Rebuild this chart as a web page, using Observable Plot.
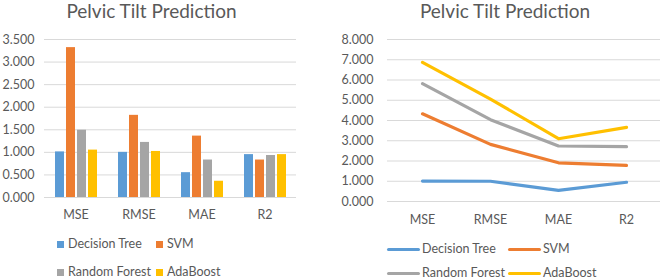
<!DOCTYPE html>
<html><head><meta charset="utf-8">
<script src="https://cdn.jsdelivr.net/npm/d3@7"></script>
<script src="https://cdn.jsdelivr.net/npm/@observablehq/plot@0.6"></script>
<style>
html,body{margin:0;padding:0;background:#fff;}
body{width:661px;height:279px;overflow:hidden;position:relative;font-family:Lato,sans-serif;color:#595959;}
.abs{position:absolute;}
.title{font-size:19px;white-space:nowrap;transform:translateX(-50%);line-height:1.15;}
.legend{display:grid;font-size:12.5px;line-height:1;}
.item{display:flex;align-items:center;white-space:nowrap;}
</style></head><body>
<script>
// ---- data ----
const metrics = ["MSE", "RMSE", "MAE", "R2"];
const series = ["Decision Tree", "SVM", "Random Forest", "AdaBoost"];
const colors = ["#5B9BD5", "#ED7D31", "#A5A5A5", "#FFC000"];
const decisionTree = [1.01, 1.00, 0.55, 0.95];
const svm = [3.32, 1.82, 1.36, 0.83];
const randomForest = [1.49, 1.22, 0.83, 0.93];
const adaBoost = [1.05, 1.02, 0.36, 0.95];
const barTicks = [0, 0.5, 1, 1.5, 2, 2.5, 3, 3.5];
const lineTicks = [0, 1, 2, 3, 4, 5, 6, 7, 8];
const chartTitle = "Pelvic Tilt Prediction";

const seriesValues = [decisionTree, svm, randomForest, adaBoost];
const rows = [];
series.forEach((s, i) => metrics.forEach((m, j) => rows.push({series: s, metric: m, value: seriesValues[i][j]})));

const fmt = d3.format(".3f");
const baseStyle = {fontFamily: "Lato", fontSize: "12.5px", color: "#595959", background: "transparent", overflow: "visible"};

// ---- left: clustered bars ----
const left = Plot.plot({
  width: 330, height: 225,
  marginLeft: 43, marginRight: 33, marginTop: 39, marginBottom: 28,
  style: baseStyle,
  fx: {domain: metrics, padding: 0, axis: "bottom", tickSize: 0, tickPadding: 13, label: null},
  x: {domain: series, axis: null, paddingInner: 0.19, paddingOuter: 0.855},
  y: {domain: [0, 3.5], ticks: barTicks, tickFormat: fmt, tickSize: 0, tickPadding: 10, label: null},
  color: {domain: series, range: colors},
  marks: [
    Plot.ruleY(barTicks, {stroke: "#D9D9D9", strokeWidth: 1}),
    Plot.barY(rows, {fx: "metric", x: "series", y: "value", fill: "series"})
  ]
});
left.style.position = "absolute"; left.style.left = "0px"; left.style.top = "0px";
document.body.appendChild(left);

// ---- right: stacked lines ----
const right = Plot.plot({
  width: 331, height: 229,
  marginLeft: 57, marginRight: 1, marginTop: 39, marginBottom: 28,
  style: baseStyle,
  x: {type: "point", domain: metrics, padding: 0.5, tickSize: 0, tickPadding: 14, label: null},
  y: {domain: [0, 8], ticks: lineTicks, tickFormat: fmt, tickSize: 0, tickPadding: 14, label: null},
  color: {domain: series, range: colors},
  marks: [
    Plot.ruleY(lineTicks, {stroke: "#D9D9D9", strokeWidth: 1}),
    Plot.lineY(rows, Plot.stackY2({x: "metric", y: "value", z: "series", stroke: "series",
      strokeWidth: 3.2, strokeLinecap: "round", strokeLinejoin: "round"}))
  ]
});
right.style.position = "absolute"; right.style.left = "330px"; right.style.top = "0px";
document.body.appendChild(right);

// ---- titles ----
function addTitle(cx) {
  const t = document.createElement("div");
  t.className = "abs title";
  t.textContent = chartTitle;
  t.style.left = cx + "px";
  t.style.top = "0px";
  document.body.appendChild(t);
}
addTitle(151.5);
addTitle(505);

// ---- legends ----
function addLegend(opts) {
  const g = document.createElement("div");
  g.className = "abs legend";
  g.style.left = opts.left + "px";
  g.style.top = opts.top + "px";
  g.style.gridTemplateColumns = opts.cols;
  g.style.gridAutoRows = opts.rowH + "px";
  series.forEach((s, i) => {
    const it = document.createElement("div");
    it.className = "item";
    const sw = document.createElement("span");
    sw.style.display = "inline-block";
    sw.style.width = opts.sw[0] + "px";
    sw.style.height = opts.sw[1] + "px";
    sw.style.background = colors[i];
    sw.style.marginRight = opts.gap + "px";
    if (opts.round) sw.style.borderRadius = "2px";
    const tx = document.createElement("span");
    tx.textContent = s;
    it.appendChild(sw); it.appendChild(tx);
    g.appendChild(it);
  });
  document.body.appendChild(g);
}
addLegend({left: 57, top: 230, cols: "99px auto", rowH: 28, sw: [7, 7], gap: 4});
addLegend({left: 387, top: 237, cols: "121px auto", rowH: 24, sw: [33, 3], gap: 2, round: true});
</script>
</body></html>
